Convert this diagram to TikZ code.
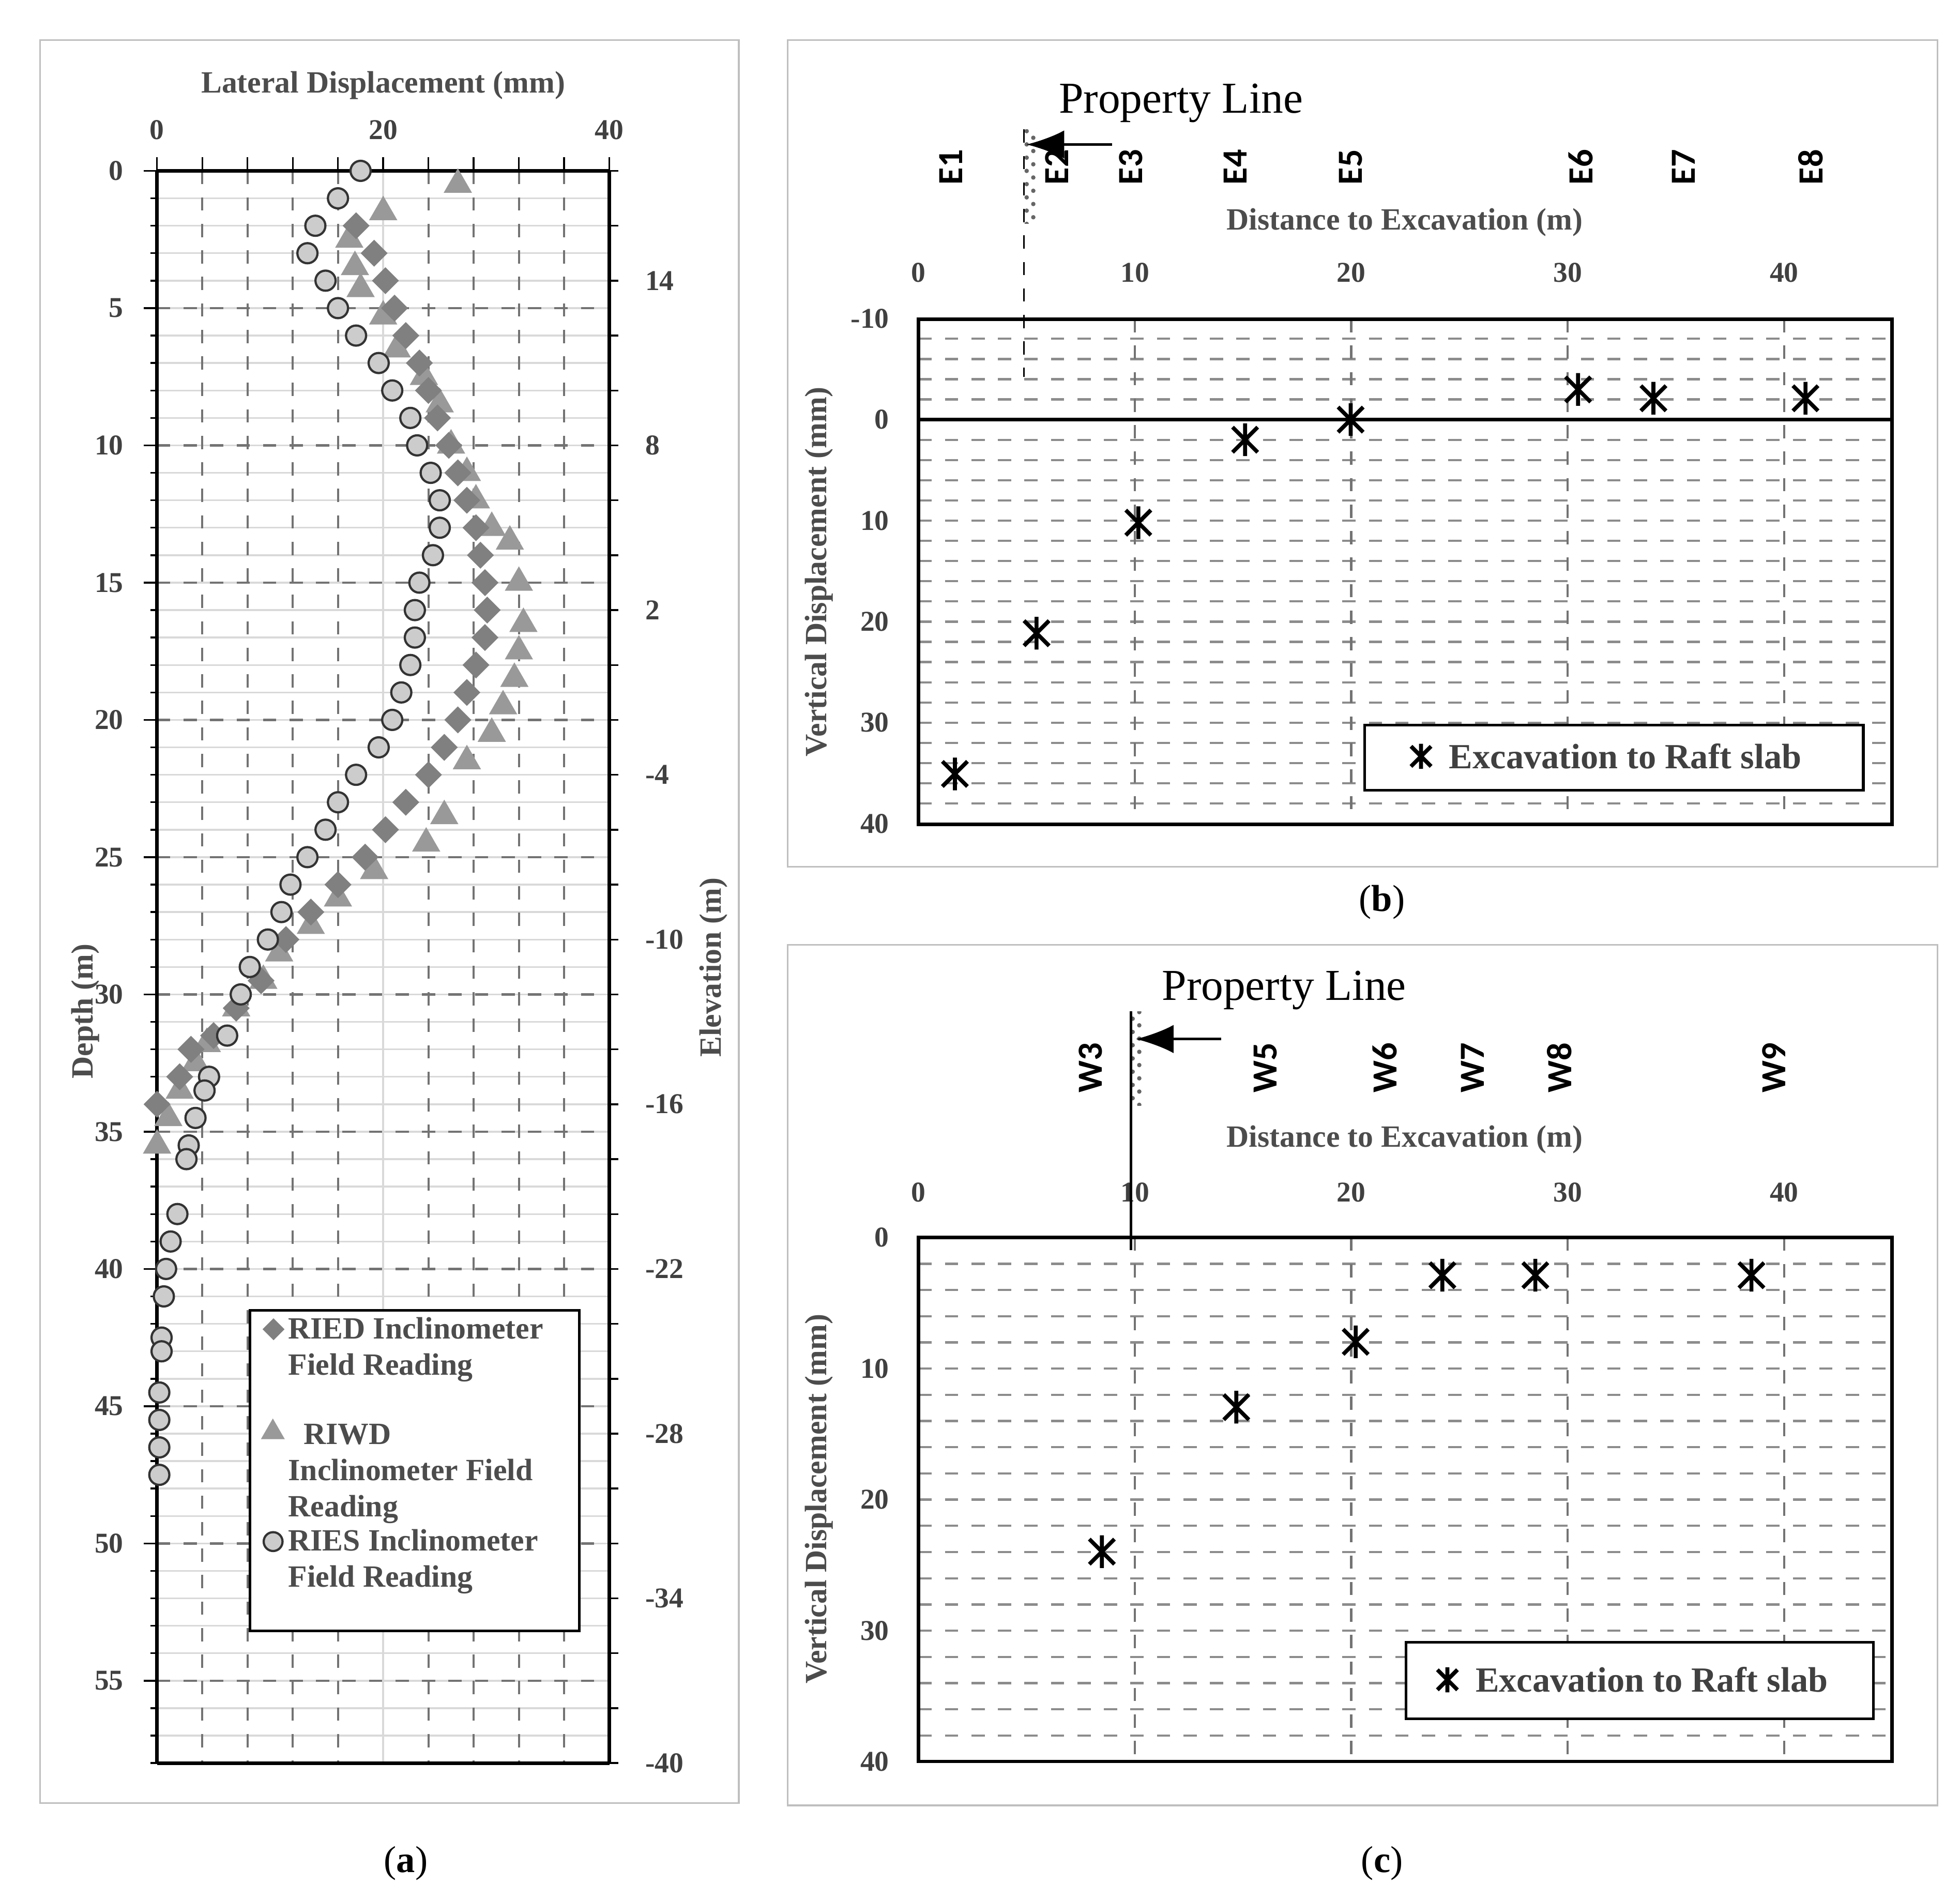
\documentclass[tikz,border=0pt]{standalone}
\usepackage{fontspec}
\setmainfont{Liberation Serif}
\newfontfamily\calib{Carlito}
\usetikzlibrary{shapes.geometric,arrows.meta,patterns}
\begin{document}
\begin{tikzpicture}[x=0.1mm,y=-0.1mm,
  frame/.style={draw=black!25,line width=0.4pt},
  majgrid/.style={draw=black!55,dashed,line width=0.5pt},
  mingrid/.style={draw=black!15,line width=0.4pt},
  tick/.style={font=\fontsize{6.5}{7}\selectfont\bfseries,text=black!75},
  ttl/.style={font=\fontsize{7}{8}\selectfont\bfseries,text=black!70},
  dia/.style={diamond,fill=black!50,inner sep=0,minimum size=2.2mm},
  tri/.style={regular polygon,regular polygon sides=3,fill=black!40,inner sep=0,minimum size=2.6mm},
  circ/.style={circle,draw=black!80,fill=black!20,line width=0.5pt,inner sep=0,minimum size=1.6mm},
  elab/.style={font=\calib\fontsize{8}{9}\selectfont\bfseries,rotate=90},
  lgd/.style={draw=black,line width=0.6pt}]
\useasboundingbox (0,0) rectangle (1560,1512);
% ---------- panel a -------------
\draw[frame] (32,32) rectangle (588,1435);
\begin{scope}[shift={(125,136)},x=0.9mm,y=-2.185mm]
 \foreach \d in {1,...,58} \draw[mingrid] (0,\d) -- (40,\d);
 \foreach \d in {5,10,...,55} \draw[majgrid] (0,\d) -- (40,\d);
 \foreach \m in {4,8,12,16,24,28,32,36} \draw[majgrid] (\m,0) -- (\m,58);
 \draw[draw=black!15] (20,0) -- (20,58);
 \draw[line width=0.8pt] (0,0) -- (40,0);
 \draw[line width=0.8pt] (0,58) -- (40,58);
 \draw[line width=0.8pt] (0,0) -- (0,58);
 \draw[line width=0.8pt] (40,0) -- (40,58);
 \foreach \d in {1,...,58} \draw (0,\d) -- (-0.6,\d);
 \foreach \d in {0,5,...,55} {\draw (0,\d) -- (-1.2,\d); \node[tick,anchor=east] at (-1.6,\d) {\d};}
 \foreach \d in {0,2,...,58} \draw (40,\d) -- (40.8,\d);
 \foreach \e in {14,8,2,-4,-10,-16,-22,-28,-34,-40} {\pgfmathsetmacro\dd{18-\e}\node[tick,anchor=west] at (41.8,\dd) {\e};}
 \foreach \m in {0,4,...,40} \draw (\m,0) -- (\m,-0.5);
 \foreach \m in {0,20,40} \node[tick] at (\m,-1.5) {\m};
 % RIWD
 \foreach \x/\d in {26.6/0.5,20/1.5,17/2.5,17.5/3.5,18/4.3,20/5.3,21.2/6.5,23.6/7.5,25/8.5,26/10,27.4/11,28.2/12,29.6/13,31.2/13.5,32/15,32.4/16.5,32/17.5,31.6/18.5,30.6/19.5,29.6/20.5,27.4/21.5,25.4/23.5,23.8/24.5,19.2/25.5,16/26.5,13.6/27.5,10.8/28.5,9.4/29.5,7/30.5,4.4/31.8,3.4/32.5,2/33.5,1/34.5,0/35.5}
   \node[tri] at (\x,\d) {};
 % RIED
 \foreach \x/\d in {17.6/2,19.2/3,20.2/4,21/5,22/6,23.2/7,24/8,24.8/9,25.8/10,26.6/11,27.4/12,28.2/13,28.6/14,29/15,29.2/16,29/17,28.2/18,27.4/19,26.6/20,25.4/21,24/22,22/23,20.2/24,18.4/25,16/26,13.6/27,11.4/28,9.2/29.5,7/30.5,5/31.5,3/32,2/33,0/34}
   \node[dia] at (\x,\d) {};
 % RIES
 \foreach \x/\d in {18/0,16/1,14/2,13.3/3,14.9/4,16/5,17.6/6,19.6/7,20.8/8,22.4/9,23/10,24.2/11,25/12,25/13,24.4/14,23.2/15,22.8/16,22.8/17,22.4/18,21.6/19,20.8/20,19.6/21,17.6/22,16/23,14.9/24,13.3/25,11.8/26,11/27,9.8/28,8.2/29,7.4/30,6.2/31.5,4.6/33,4.2/33.5,3.4/34.5,2.8/35.5,2.6/36,1.8/38,1.2/39,0.8/40,0.6/41,0.4/42.5,0.4/43,0.2/44.5,0.2/45.5,0.2/46.5,0.2/47.5}
   \node[circ] at (\x,\d) {};
\end{scope}
\node[ttl] (lat) at (305,68) {Lateral Displacement (mm)};
\node[ttl,rotate=90] (dep) at (68,805) {Depth (m)};
\node[ttl,rotate=90] (elev) at (568,770) {Elevation (m)};
\node[draw=black,fill=white,line width=0.6pt,minimum width=262*0.1mm,minimum height=255*0.1mm,anchor=north west] (lga) at (198,1042) {};
\begin{scope}[every node/.style={font=\fontsize{7}{8.2}\selectfont\bfseries,text=black!70,anchor=west,align=left}]
\node[dia,minimum size=1.8mm] (la1) at (208,1058) {};
\node (ta1) at (217,1074) {RIED Inclinometer\\Field Reading};
\node[tri,minimum size=2.2mm] (la2) at (210,1140) {};
\node (ta2) at (217,1173) {\phantom{x}RIWD\\Inclinometer Field\\Reading};
\node[circ,minimum size=1.5mm] (la3) at (209,1227) {};
\node (ta3) at (217,1243) {RIES Inclinometer\\Field Reading};
\end{scope}
\node[font=\fontsize{8.5}{9}\selectfont] (capa) at (323,1483) {(\textbf{a})};
% ---------- panel b -------------
\draw[frame] (627,32) rectangle (1542,690);
\foreach \v in {-8,-6,...,38} \draw[majgrid,draw=black!45] (731,334+\v*8.04) -- (1506,334+\v*8.04);
\foreach \m in {10,20,30,40} \draw[majgrid] (731+\m*17.225,254) -- (731+\m*17.225,656);
\draw[line width=0.8pt] (731,254) rectangle (1506,656);
\draw[line width=0.8pt] (731,334) -- (1506,334);
\foreach \v in {-10,0,10,20,30,40} \node[tick,anchor=east] at (720,334+\v*8.04) {\v};
\foreach \m in {0,10,20,30,40} \node[tick] at (731+\m*17.225,217) {\m};
\node[ttl] (db) at (1118,177) {Distance to Excavation (m)};
\node[ttl,rotate=90] (vb) at (652,455) {Vertical Displacement (mm)};
\foreach \n/\x in {E1/757,E2/841,E3/900,E4/983,E5/1075,E6/1258,E7/1340,E8/1441} \node[elab] at (\x,133) {\n};
\fill[pattern=crosshatch dots,pattern color=black!60] (815,103) rectangle (825,178);
\draw[dashed] (815,103) -- (815,300);
\coordinate (pb1) at (885,115); \coordinate (pb2) at (817,115);
\draw[-{Latex[length=3mm]},line width=0.6pt] (pb1) -- (pb2);
\node[font=\fontsize{10}{11}\selectfont] (plb) at (940,82) {Property Line};
\foreach \x/\y in {760/616,825/504,906/416,991/350,1075/334,1256/310,1316/317,1437/317}
  \draw[line width=0.9pt] (\x,\y) +(-10,-10) -- +(10,10) +(-10,10) -- +(10,-10) +(0,-13) -- +(0,13);
\node[lgd,fill=white,minimum width=397*0.1mm,minimum height=52*0.1mm,anchor=north west] (lgb) at (1085,576) {};
\draw[line width=0.9pt] (1131,602) +(-8,-8) -- +(8,8) +(-8,8) -- +(8,-8) +(0,-10) -- +(0,10);
\node[font=\fontsize{8}{9}\selectfont\bfseries,text=black!75,anchor=west] (tb) at (1141,602) {Excavation to Raft slab};
\node[font=\fontsize{8.5}{9}\selectfont] (capb) at (1100,718) {(\textbf{b})};
% ---------- panel c -------------
\draw[frame] (627,752) rectangle (1542,1437);
\foreach \v in {2,4,...,38} \draw[majgrid,draw=black!45] (731,985+\v*10.43) -- (1506,985+\v*10.43);
\foreach \m in {10,20,30,40} \draw[majgrid] (731+\m*17.225,985) -- (731+\m*17.225,1402);
\draw[line width=0.8pt] (731,985) rectangle (1506,1402);
\foreach \v in {0,10,20,30,40} \node[tick,anchor=east] at (720,985+\v*10.43) {\v};
\foreach \m in {0,10,20,30,40} \node[tick] at (731+\m*17.225,949) {\m};
\node[ttl] (dc) at (1118,907) {Distance to Excavation (m)};
\node[ttl,rotate=90] (vc) at (652,1193) {Vertical Displacement (mm)};
\foreach \n/\x in {W3/868,W5/1007,W6/1102,W7/1172,W8/1241,W9/1412} \node[elab] at (\x,850) {\n};
\fill[pattern=crosshatch dots,pattern color=black!60] (900,805) rectangle (910,880);
\draw[line width=0.6pt] (900,805) -- (900,995);
\coordinate (pc1) at (972,827); \coordinate (pc2) at (904,827);
\draw[-{Latex[length=3mm]},line width=0.6pt] (pc1) -- (pc2);
\node[font=\fontsize{10}{11}\selectfont] (plc) at (1022,788) {Property Line};
\foreach \x/\y in {1148/1015,1222/1015,1394/1015,1079/1068,984/1120,877/1235}
  \draw[line width=0.9pt] (\x,\y) +(-10,-10) -- +(10,10) +(-10,10) -- +(10,-10) +(0,-13) -- +(0,13);
\node[lgd,fill=white,minimum width=372*0.1mm,minimum height=61*0.1mm,anchor=north west] (lgc) at (1118,1306) {};
\draw[line width=0.9pt] (1152,1337) +(-8,-8) -- +(8,8) +(-8,8) -- +(8,-8) +(0,-10) -- +(0,10);
\node[font=\fontsize{8}{9}\selectfont\bfseries,text=black!75,anchor=west] (tc) at (1162,1337) {Excavation to Raft slab};
\node[font=\fontsize{8.5}{9}\selectfont] (capc) at (1100,1483) {(\textbf{c})};
\end{tikzpicture}
\end{document}
